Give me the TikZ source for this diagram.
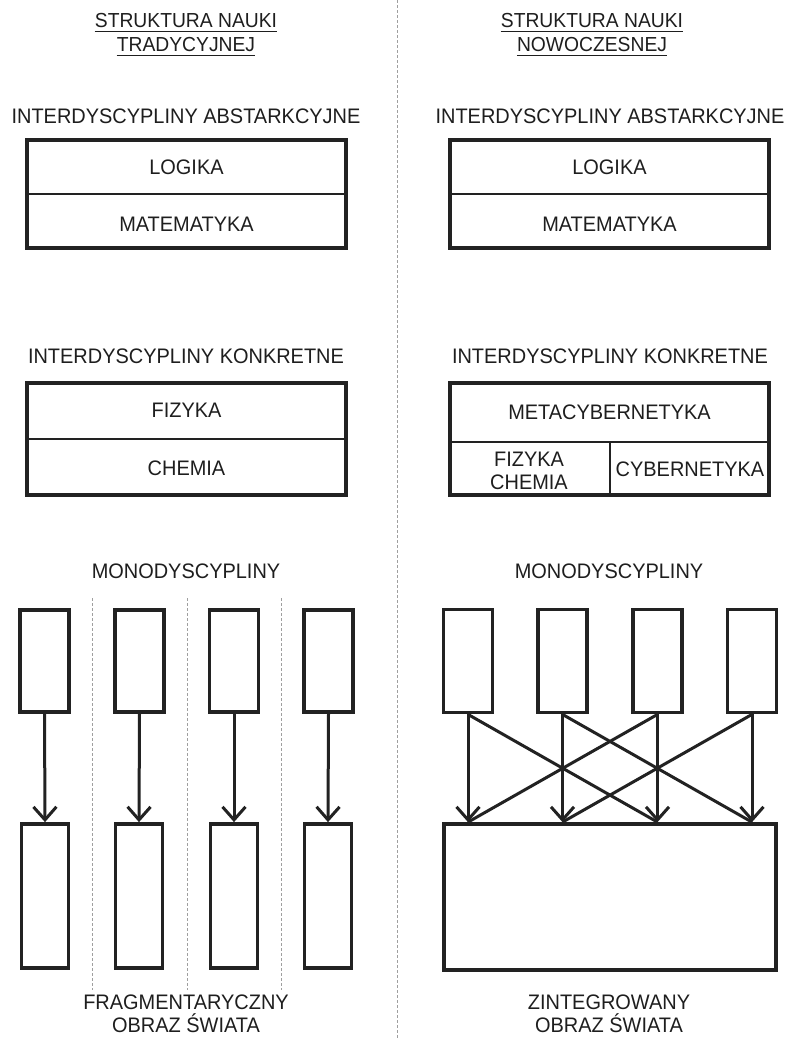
\documentclass[tikz,border=0pt]{standalone}
\usepackage{fontspec}
\setmainfont[FakeStretch=0.95]{Liberation Sans}
\usetikzlibrary{arrows.meta,calc}
\definecolor{ink}{HTML}{222222}
\definecolor{txt}{HTML}{1e1e1e}
\begin{document}
\begin{tikzpicture}[x=1pt,y=-1pt,
  lbl/.style={inner sep=0pt,text height=15pt,text depth=0pt,font=\fontsize{21}{23}\selectfont,text=txt},
  ttl/.style={inner sep=0pt,text height=14.5pt,text depth=3.5pt,font=\fontsize{20.3}{23}\selectfont,text=txt},
  bigbox/.style={draw=ink,line width=3.8pt,minimum width=319pt,inner sep=0pt},
  mbox/.style={draw=ink,line width=3.8pt,inner sep=0pt,minimum width=49pt},
  divline/.style={draw=ink,line width=2pt},
  arr/.style={draw=ink,line width=3pt,-{Straight Barb[length=13pt,width=23pt]}},
  diag/.style={draw=ink,line width=3pt},
  sep/.style={draw=gray!75,line width=0.7pt,dash pattern=on 3pt off 2pt}
]
\useasboundingbox[fill=white] (0,0) rectangle (785,1039);
% main separator
\draw[sep] (397,0) -- (397,1039);

% ---------- LEFT ----------
\node[ttl] (lt1) at (186,22) {STRUKTURA NAUKI};
\node[ttl] (lt2) at (186,46) {TRADYCYJNEJ};
\draw[txt,line width=0.9pt] (lt1.south west) -- (lt1.south east);
\draw[txt,line width=0.9pt] (lt2.south west) -- (lt2.south east);

\node[lbl] (lh1) at (186,116) {INTERDYSCYPLINY ABSTARKCYJNE};
\node[bigbox,minimum height=108pt] (LA) at (186.5,194) {};
\draw[divline] (LA.west) -- (LA.east);
\node[lbl] (lA1) at (186.5,167) {LOGIKA};
\node[lbl] (lA2) at (186.5,224) {MATEMATYKA};

\node[lbl] (lh2) at (186,356) {INTERDYSCYPLINY KONKRETNE};
\node[bigbox,minimum height=112pt] (LK) at (186.5,439) {};
\draw[divline] (LK.west) -- (LK.east);
\node[lbl] (lK1) at (186.5,410) {FIZYKA};
\node[lbl] (lK2) at (186.5,468) {CHEMIA};

\node[lbl] (lh3) at (186,571) {MONODYSCYPLINY};

\draw[sep] (92,598) -- (92,990);
\draw[sep] (187,598) -- (187,990);
\draw[sep] (281,598) -- (281,990);

\foreach \i/\x/\xb in {1/44.5/45,2/139.5/139,3/234/234,4/328.5/328}{
  \node[mbox,minimum height=102pt] (lm\i) at (\x,661) {};
  \node[mbox,minimum width=47pt,minimum height=144pt] (lb\i) at (\xb,896) {};
  \draw[arr] (lm\i.south) -- (lb\i.north);
}

\node[lbl] (lf1) at (186,1002) {FRAGMENTARYCZNY};
\node[lbl] (lf2) at (186,1025) {OBRAZ ŚWIATA};

% ---------- RIGHT ----------
\node[ttl] (rt1) at (592,22) {STRUKTURA NAUKI};
\node[ttl] (rt2) at (592,46) {NOWOCZESNEJ};
\draw[txt,line width=0.9pt] (rt1.south west) -- (rt1.south east);
\draw[txt,line width=0.9pt] (rt2.south west) -- (rt2.south east);

\node[lbl] (rh1) at (610,116) {INTERDYSCYPLINY ABSTARKCYJNE};
\node[bigbox,minimum height=108pt] (RA) at (609.5,194) {};
\draw[divline] (RA.west) -- (RA.east);
\node[lbl] (rA1) at (609.5,167) {LOGIKA};
\node[lbl] (rA2) at (609.5,224) {MATEMATYKA};

\node[lbl] (rh2) at (610,356) {INTERDYSCYPLINY KONKRETNE};
\node[bigbox,minimum height=112pt] (RK) at (609.5,439) {};
\draw[divline] (RK.west |- 0,442) -- (RK.east |- 0,442);
\draw[divline] (610,442) -- (RK.south -| 610,0);
\node[lbl] (rK0) at (609.5,412) {METACYBERNETYKA};
\node[lbl] (rK1) at (529,459) {FIZYKA};
\node[lbl] (rK2) at (529,482) {CHEMIA};
\node[lbl] (rK3) at (690,469) {CYBERNETYKA};

\node[lbl] (rh3) at (609,571) {MONODYSCYPLINY};

\node[draw=ink,line width=3.8pt,inner sep=0pt,minimum width=332pt,minimum height=146pt] (RB) at (610,897) {};
\foreach \i/\x in {1/468,2/562.5,3/657.5,4/752}{
  \node[mbox,minimum height=103pt] (rm\i) at (\x,661) {};
  \coordinate (tip\i) at (RB.north -| rm\i.south);
  \draw[arr] (rm\i.south) -- (tip\i);
}
\draw[diag] (rm1.south) -- (tip3);
\draw[diag] (rm2.south) -- (tip4);
\draw[diag] (rm3.south) -- (tip1);
\draw[diag] (rm4.south) -- (tip2);

\node[lbl] (rf1) at (609,1002) {ZINTEGROWANY};
\node[lbl] (rf2) at (609,1025) {OBRAZ ŚWIATA};
\end{tikzpicture}
\end{document}
